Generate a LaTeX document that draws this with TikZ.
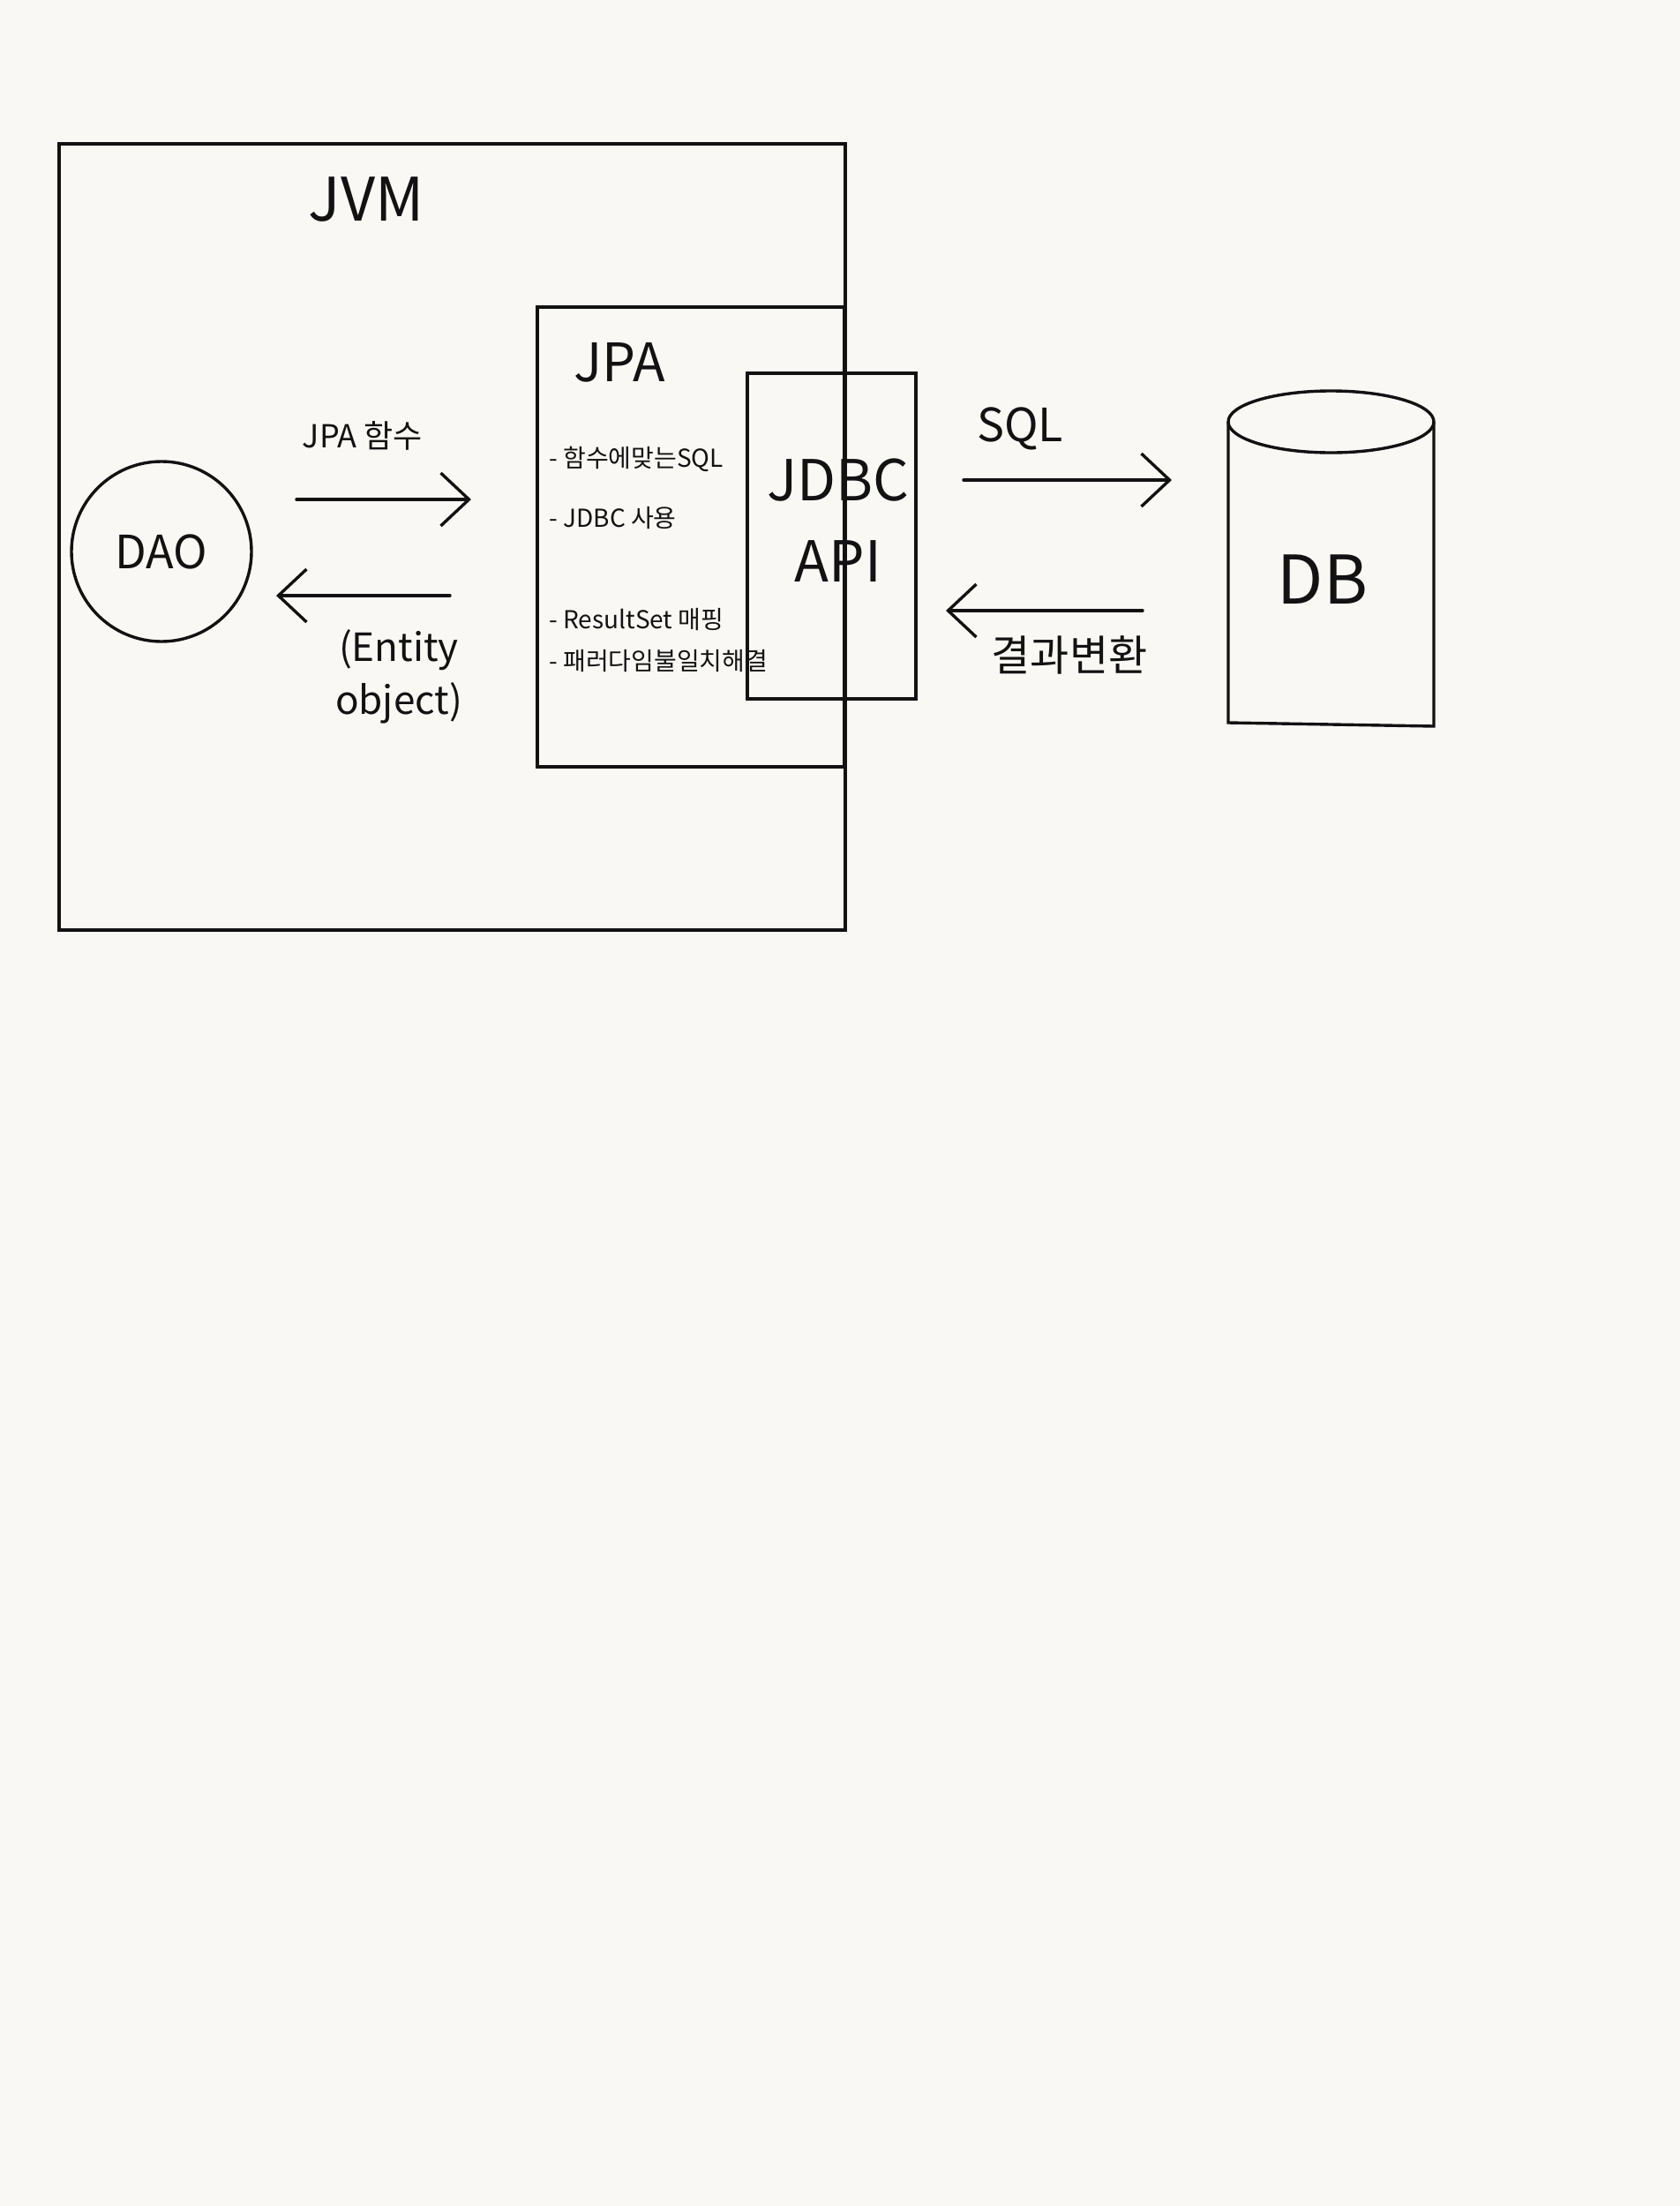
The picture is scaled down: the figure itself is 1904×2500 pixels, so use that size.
\documentclass[tikz,border=0pt]{standalone}
\usepackage{fontspec}
\setmainfont{Noto Sans CJK KR}
\usepackage{tikz}
\usetikzlibrary{arrows.meta}
\definecolor{paper}{RGB}{250,248,245}
\definecolor{ink}{RGB}{18,18,18}
\tikzset{
  box/.style={draw=ink, line width=1.7pt, inner sep=0pt},
  flow/.style={draw=ink, line width=1.7pt, line cap=round,
    -{Straight Barb[length=16pt,width=30pt,line width=1.7pt]}},
  note/.style={font=\fontsize{14}{17}\selectfont, anchor=west, inner sep=0pt, text=ink},
  label/.style={text=ink, inner sep=0pt},
}
\begin{document}
\begin{tikzpicture}[x=0.5pt,y=-0.5pt]
                            % Paper
                            \fill[paper] (0,0) rectangle (1904,2500);
                            \useasboundingbox (0,0) rectangle (1904,2500);

                            % Boxes
                            \node[box, minimum width=445.5pt, minimum height=445.5pt] (jvm) at (512.5,608.5) {};
                            \node[box, minimum width=174pt, minimum height=260.5pt] (jpa) at (783,608.5) {};
                            \node[box, minimum width=95.5pt, minimum height=184.5pt] (jdbc) at (942.5,607.5) {};
                            \node[box, circle, minimum size=102pt] (dao) at (183,625) {};

                            % DB cylinder
                            \coordinate (dbtop) at (1508.5,478);
                            \draw[box] (dbtop) ellipse [x radius=58.25pt, y radius=17.5pt];
                            \draw[box] (1392,478) -- (1392,819) -- (1625,823) -- (1625,478);

                            % Labels
                            \node[label, font=\fontsize{34}{38}\selectfont] (jvmlabel) at (415,226) {JVM};
                            \node[label, font=\fontsize{30}{34}\selectfont] (jpalabel) at (702,411) {JPA};
                            \node[label, align=center, font=\fontsize{32}{46}\selectfont] (jdbclabel) at (950,590) {JDBC\\API};
                            \node[label, font=\fontsize{26}{30}\selectfont] (daolabel) at (dao) {DAO};
                            \node[label, font=\fontsize{38}{42}\selectfont] (dblabel) at (1499,657) {DB};

                            % JPA notes
                            \node[note] (n1) at (622,520) {- 함수에맞는SQL};
                            \node[note] (n2) at (622,587) {- JDBC 사용};
                            \node[note] (n3) at (622,702) {- ResultSet 매핑};
                            \node[note] (n4) at (622,749) {- 패러다임불일치해결};

                            % Arrows
                            \coordinate (a1) at (336,566);
                            \coordinate (a2) at (534,566);
                            \coordinate (b1) at (510,675);
                            \coordinate (b2) at (313,675);
                            \coordinate (c1) at (1092,544);
                            \coordinate (c2) at (1328,544);
                            \coordinate (d1) at (1295,692);
                            \coordinate (d2) at (1072,692);
                            \draw[flow] (a1) -- (a2);
                            \draw[flow] (b1) -- (b2);
                            \draw[flow] (c1) -- (c2);
                            \draw[flow] (d1) -- (d2);

                            % Arrow labels
                            \node[label, font=\fontsize{18}{22}\selectfont] (calls) at (411,494) {JPA 함수};
                            \node[label, align=center, font=\fontsize{22}{30}\selectfont] (entity) at (452,767) {(Entity\\object)};
                            \node[label, font=\fontsize{26}{30}\selectfont] (sql) at (1156,486) {SQL};
                            \node[label, font=\fontsize{24}{28}\selectfont] (result) at (1212,742) {결과변환};
                      \end{tikzpicture}
\end{document}
